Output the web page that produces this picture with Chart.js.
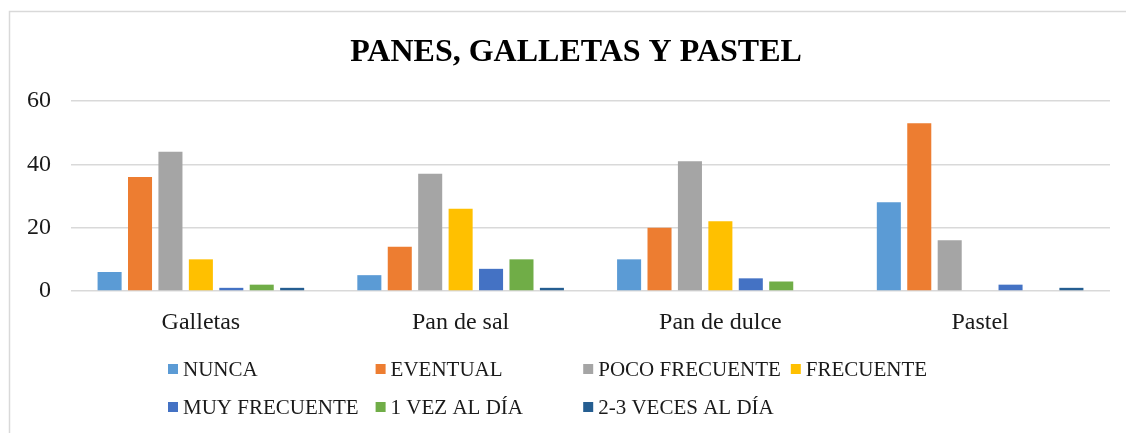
<!DOCTYPE html>
<html>
<head>
<meta charset="utf-8">
<script src="https://cdn.jsdelivr.net/npm/chart.js@4/dist/chart.umd.min.js"></script>
<style>
  html, body { margin: 0; padding: 0; background: #fff; }
  #wrap { position: relative; width: 1126px; height: 433px; }
</style>
</head>
<body>
<div id="wrap"><canvas id="c"></canvas></div>
<script>
const title = 'PANES, GALLETAS Y PASTEL';
const categories = ['Galletas', 'Pan de sal', 'Pan de dulce', 'Pastel'];
const seriesNames = ['NUNCA', 'EVENTUAL', 'POCO FRECUENTE', 'FRECUENTE', 'MUY FRECUENTE', '1 VEZ AL DÍA', '2-3 VECES AL DÍA'];
const nunca        = [6, 5, 10, 28];
const eventual     = [36, 14, 20, 53];
const pocoFrec     = [44, 37, 41, 16];
const frecuente    = [10, 26, 22, 0];
const muyFrec      = [1, 7, 4, 2];
const unaVez       = [2, 10, 3, 0];
const dosTres      = [1, 1, 0, 1];
const yTicks = [0, 20, 40, 60];

const seriesValues = [nunca, eventual, pocoFrec, frecuente, muyFrec, unaVez, dosTres];
const colors = ['#5B9BD5', '#ED7D31', '#A5A5A5', '#FFC000', '#4472C4', '#70AD47', '#255E91'];
const FONT = "'Liberation Serif', 'Times New Roman', serif";

const frame = {
  id: 'frame',
  beforeDraw(chart) {
    const ctx = chart.ctx;
    ctx.save();
    ctx.fillStyle = '#ffffff';
    ctx.fillRect(0, 0, chart.width, chart.height);
    ctx.strokeStyle = '#d9d9d9';
    ctx.lineWidth = 1.5;
    ctx.beginPath();
    ctx.moveTo(9.5, chart.height + 5);
    ctx.lineTo(9.5, 11.5);
    ctx.lineTo(chart.width + 5, 11.5);
    ctx.stroke();
    ctx.fillStyle = '#000';
    ctx.font = 'bold 32px ' + FONT;
    ctx.textAlign = 'center';
    ctx.textBaseline = 'alphabetic';
    ctx.fillText(title, 576, 61);
    ctx.restore();
  }
};

const gridLegend = {
  id: 'gridLegend',
  afterDraw(chart) {
    const ctx = chart.ctx;
    ctx.save();
    ctx.font = '21px ' + FONT;
    ctx.textBaseline = 'middle';
    const box = 10, gap = 5, colGap = 10;
    const items = chart.data.datasets.map(d => ({ text: d.label, color: d.backgroundColor }));
    const colW = Math.max(...items.map(it => box + gap + ctx.measureText(it.text).width)) + colGap;
    const left = 168;
    const rows = [370, 408];
    items.forEach((it, i) => {
      const r = Math.floor(i / 4), c = i % 4;
      const x = left + c * colW;
      const y = rows[r];
      ctx.fillStyle = it.color;
      ctx.fillRect(x, y - box / 2 - 1, box, box);
      ctx.fillStyle = '#1a1a1a';
      ctx.fillText(it.text, x + box + gap, y);
    });
    ctx.restore();
  }
};

new Chart(document.getElementById('c'), {
  type: 'bar',
  data: {
    labels: categories,
    datasets: seriesNames.map((name, i) => ({
      label: name,
      data: seriesValues[i],
      backgroundColor: colors[i],
      borderWidth: 0,
      categoryPercentage: 0.82,
      barPercentage: 0.79
    }))
  },
  options: {
    responsive: true,
    maintainAspectRatio: false,
    animation: false,
    layout: { padding: { left: 0, right: 16, top: 101, bottom: 99 } },
    plugins: {
      legend: { display: false },
      tooltip: { enabled: false },
      title: { display: false }
    },
    scales: {
      x: {
        grid: { display: false },
        border: { display: false },
        ticks: { color: '#1a1a1a', font: { family: FONT, size: 24 }, padding: 9, maxRotation: 0 },
        afterFit(scale) { scale.height = 43; }
      },
      y: {
        min: yTicks[0],
        max: yTicks[yTicks.length - 1],
        afterBuildTicks(scale) { scale.ticks = yTicks.map(v => ({ value: v })); },
        grid: { color: '#d9d9d9', lineWidth: 1.5, drawTicks: false },
        border: { display: false },
        ticks: { color: '#1a1a1a', font: { family: FONT, size: 24 }, padding: 20 },
        afterFit(scale) { scale.width = 71; }
      }
    }
  },
  plugins: [frame, gridLegend]
});
</script>
</body>
</html>
